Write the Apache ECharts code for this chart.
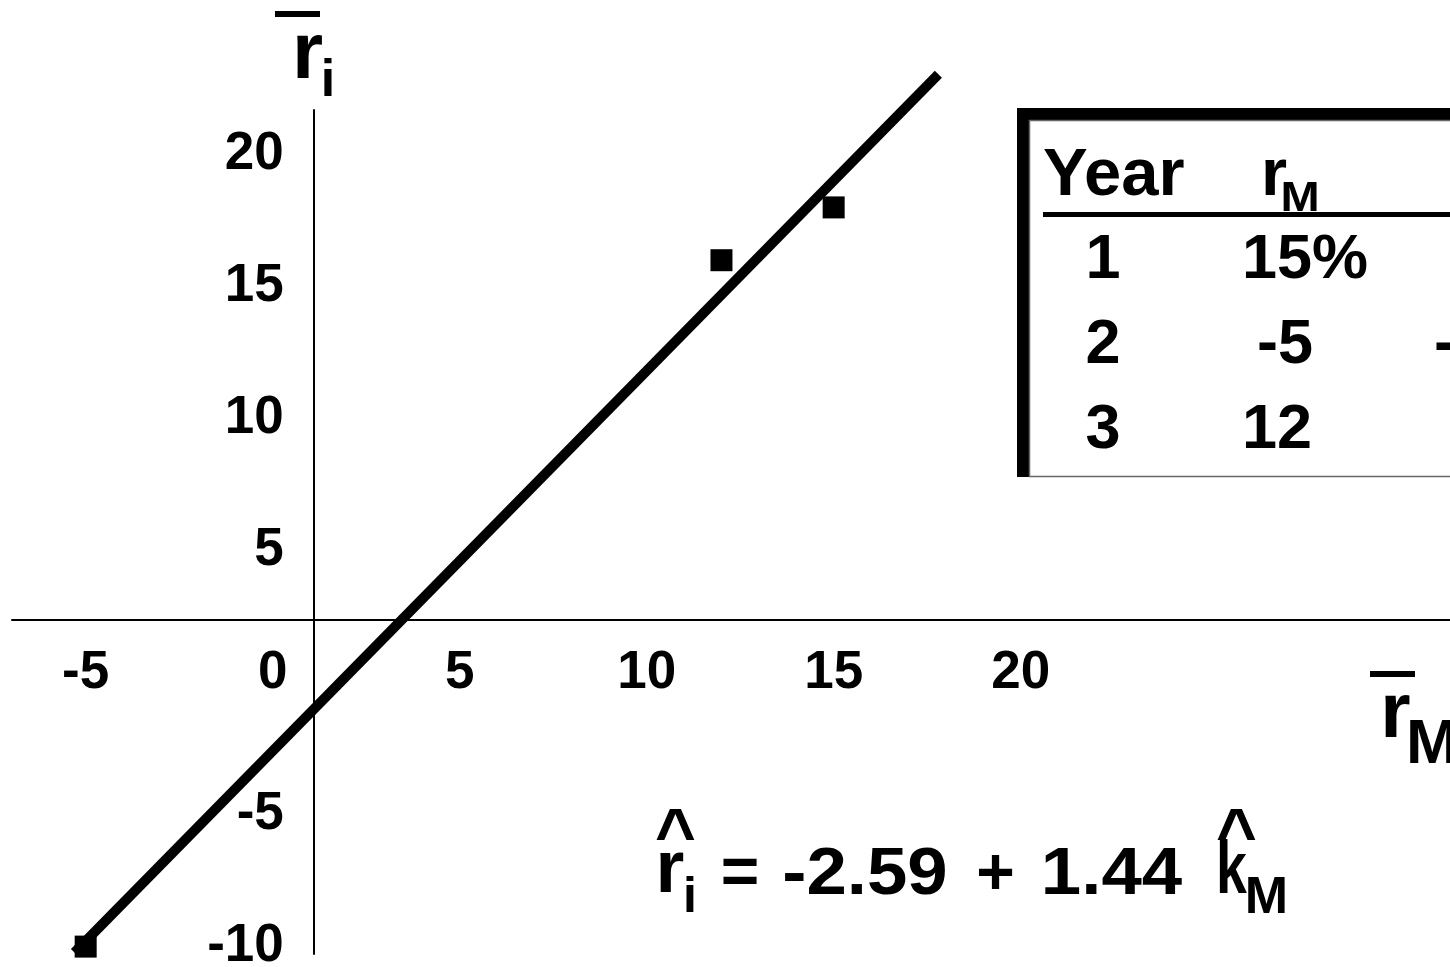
<!DOCTYPE html>
<html>
<head>
<meta charset="utf-8">
<title>Characteristic line</title>
<script src="https://cdn.jsdelivr.net/npm/echarts@6/dist/echarts.min.js"></script>
<style>
  html, body { margin: 0; padding: 0; background: #fff; }
  #chart { width: 1450px; height: 967px; }
</style>
</head>
<body>
<div id="chart"></div>
<script>
// ---- data ----
const YEARS = [1, 2, 3];
const R_M = [15, -5, 12];        // market return, %
const R_I = [18, -10, 16];       // stock return, %
const X_TICKS = [-5, 0, 5, 10, 15, 20];
const Y_TICKS = [-10, -5, 5, 10, 15, 20];
const REG_INTERCEPT = -2.59;     // fitted line: r_i = a + b * k_M
const REG_SLOPE = 1.44;
const LINE_SPAN = [-5.3, 17.8];  // x extent of the drawn fitted line

// ---- layout ----
const W = 1450, H = 967;
const GRID = { left: 12, right: 0, top: 110, bottom: 13 };
const X_RANGE = [-6.97, 31.48];
const Y_RANGE = [-10.28, 21.69];
const AXIS_CROSS = [1.1, 2.37];  // where the two axis lines meet (data units)
const FONT = '"Liberation Sans", Arial, Helvetica, sans-serif';

// axis lines sit at AXIS_CROSS; shift each axis from the grid edge by that amount
const gridW = W - GRID.left - GRID.right;
const gridH = H - GRID.top - GRID.bottom;
const crossPxX = GRID.left + (AXIS_CROSS[0] - X_RANGE[0]) / (X_RANGE[1] - X_RANGE[0]) * gridW;
const crossPxY = GRID.top + (Y_RANGE[1] - AXIS_CROSS[1]) / (Y_RANGE[1] - Y_RANGE[0]) * gridH;
const xAxisOffset = crossPxY - (H - GRID.bottom);   // negative: move the bottom axis up
const yAxisOffset = GRID.left - crossPxX;           // negative: move the left axis right

const points = R_M.map((x, i) => [x, R_I[i]]);
const fitLine = LINE_SPAN.map(x => [x, +(REG_INTERCEPT + REG_SLOPE * x).toFixed(4)]);

function txt(text, x, y, size, align, extra) {
  align = align || 'center';
  return Object.assign({
    type: 'text', x: x, y: y, z: 10,
    style: {
      text: text, font: 'bold ' + size + 'px ' + FONT, fill: '#000',
      textAlign: align, textVerticalAlign: 'middle',
      align: align, verticalAlign: 'middle'
    }
  }, extra || {});
}
function bar(x, y, w, h, extra) {
  return Object.assign({ type: 'rect', z: 10, shape: { x: x, y: y, width: w, height: h }, style: { fill: '#000' } }, extra || {});
}

// table of yearly returns
const pct = (v, i) => (i === 0 ? v + '%' : String(v));
const ROW_Y = [261, 346, 431];
const YEAR_X = 1103;
const RM_X = [1242, 1257, 1242];
const RI_X = [1456, 1434, 1456];
const table = [
  bar(1017, 108, 450, 369, { z: 8 }),
  { type: 'rect', z: 9, shape: { x: 1029.5, y: 120.5, width: 440, height: 356 },
    style: { fill: '#fff', stroke: '#666', lineWidth: 1.5 } },
  bar(1043, 212, 420, 5),
  txt('Year', 1043, 177, 67, 'left'),
  txt('r', 1274, 177, 67),
  txt('M', 1300, 199, 42, 'center', { scaleX: 1.12 }),
  txt('r', 1490, 177, 67),
  txt('i', 1512, 199, 42)
];
YEARS.forEach((yr, i) => {
  table.push(txt(String(yr), YEAR_X, ROW_Y[i], 63));
  table.push(txt(pct(R_M[i], i), RM_X[i], ROW_Y[i], 63, 'left'));
  table.push(txt(pct(R_I[i], i), RI_X[i], ROW_Y[i], 63, 'left'));
});

// axis titles (r with an overbar) and the fitted equation
const titles = [
  bar(275, 11, 45, 6),
  txt('r', 307.5, 56, 80),
  txt('i', 328, 82, 52),
  bar(1370, 671, 45, 6),
  txt('r', 1395.5, 715, 78),
  txt('M', 1406, 746, 63, 'left')
];
const equation = [
  txt('^', 675.5, 839, 70),
  txt('r', 670, 872, 74),
  txt('i', 690, 898, 50),
  txt('=', 740, 876, 66),
  txt(REG_INTERCEPT.toFixed(2), 865, 876, 66, 'center', { scaleX: 1.1 }),
  txt('+', 995.5, 876, 66),
  txt(REG_SLOPE.toFixed(2), 1111.5, 876, 66, 'center', { scaleX: 1.1 }),
  txt('k', 1231.5, 873, 74, 'center', { scaleX: 0.75 }),
  txt('^', 1236.5, 839, 70),
  txt('M', 1266.5, 899, 52)
];

const labelStyle = { color: '#000', fontFamily: FONT, fontWeight: 'bold', fontSize: 53 };
const axisLine = { show: true, onZero: false, lineStyle: { color: '#000', width: 2 } };

const chart = echarts.init(document.getElementById('chart'), null, { renderer: 'canvas' });
chart.setOption({
  animation: false,
  backgroundColor: '#fff',
  grid: Object.assign({ containLabel: false, outerBoundsMode: 'none' }, GRID),
  xAxis: {
    type: 'value', min: X_RANGE[0], max: X_RANGE[1], position: 'bottom', offset: xAxisOffset,
    axisLine: axisLine, axisTick: { show: false }, splitLine: { show: false },
    axisLabel: Object.assign({ customValues: X_TICKS, margin: 27 }, labelStyle)
  },
  yAxis: {
    type: 'value', min: Y_RANGE[0], max: Y_RANGE[1], position: 'left', offset: yAxisOffset,
    axisLine: axisLine, axisTick: { show: false }, splitLine: { show: false },
    axisLabel: Object.assign({ customValues: Y_TICKS, margin: 30 }, labelStyle)
  },
  series: [
    {
      type: 'line', data: fitLine,
      symbol: 'none', clip: false, silent: true, z: 3,
      lineStyle: { color: '#000', width: 10, opacity: 1 }
    },
    {
      type: 'scatter', data: points,
      symbol: 'rect', symbolSize: 22, clip: false, z: 4,
      itemStyle: { color: '#000', opacity: 1 }
    }
  ],
  graphic: { elements: table.concat(titles, equation) }
});
</script>
</body>
</html>
